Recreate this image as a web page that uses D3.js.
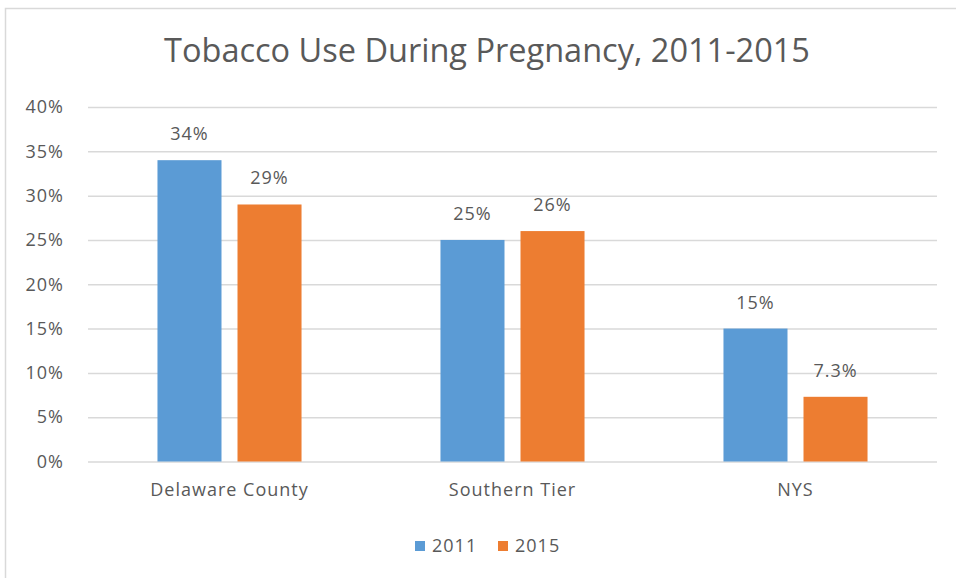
<!DOCTYPE html>
<html><head><meta charset="utf-8">
<script src="https://cdn.jsdelivr.net/npm/d3@7"></script>
<style>body{margin:0;background:#fff}svg{display:block}text{font-family:"Open Sans",Lato,sans-serif;fill:#595959}</style>
</head><body>
<script>
const categories = ["Delaware County","Southern Tier","NYS"];
const seriesNames = ["2011","2015"];
const values2011 = [34,25,15];
const values2015 = [29,26,7.3];
const labels2011 = ["34%","25%","15%"];
const labels2015 = ["29%","26%","7.3%"];
const yTicks = [0,5,10,15,20,25,30,35,40];
const colors = ["#5B9BD5","#ED7D31"];
const title = "Tobacco Use During Pregnancy, 2011-2015";

(function(){
const W=956,H=578;
const FS="18px", LS="1px";
const svg=d3.select("body").append("svg").attr("width",W).attr("height",H);
svg.append("rect").attr("x",5.5).attr("y",8.5).attr("width",W).attr("height",H).attr("fill","#fff").attr("stroke","#d9d9d9").attr("stroke-width",1.5);

const pLeft=88,pRight=937,pTop=107,pBottom=461.5;
const x0=d3.scaleBand().domain(categories).range([pLeft,pRight]).paddingInner(0.491).paddingOuter(0.2455);
const x1=d3.scaleBand().domain(seriesNames).range([0,x0.bandwidth()]).paddingInner(0.2);
const y=d3.scaleLinear().domain([0,40]).range([pBottom,pTop]);

svg.append("text").attr("x",487).attr("y",62).attr("text-anchor","middle").style("font-size","32.5px").text(title);

const yAxis=d3.axisLeft(y).tickValues(yTicks).tickFormat(d=>d+"%").tickSize(-(pRight-pLeft)).tickPadding(24);
const ga=svg.append("g").attr("transform",`translate(${pLeft},0)`).call(yAxis);
ga.select(".domain").remove();
ga.selectAll(".tick line").attr("stroke","#d9d9d9").attr("stroke-width",1.5);
ga.selectAll(".tick text").style("font-size",FS).style("letter-spacing",LS).style("font-family",null).attr("fill","#595959");

const data=categories.map((c,i)=>({c,vals:[{s:"2011",v:values2011[i],l:labels2011[i]},{s:"2015",v:values2015[i],l:labels2015[i]}]}));
const g=svg.append("g").selectAll("g").data(data).join("g").attr("transform",d=>`translate(${x0(d.c)},0)`);
g.selectAll("rect").data(d=>d.vals).join("rect")
 .attr("x",d=>x1(d.s)).attr("width",x1.bandwidth())
 .attr("y",d=>y(d.v)).attr("height",d=>y(0)-y(d.v))
 .attr("fill",(d,i)=>colors[i]);
g.selectAll("text").data(d=>d.vals).join("text")
 .attr("x",d=>x1(d.s)+x1.bandwidth()/2).attr("y",d=>y(d.v)-20)
 .attr("text-anchor","middle").style("font-size",FS).style("letter-spacing",LS).text(d=>d.l);

const xAxis=d3.axisBottom(x0).tickSize(0).tickPadding(22);
const gx=svg.append("g").attr("transform",`translate(0,${pBottom})`).call(xAxis);
gx.select(".domain").remove();
gx.selectAll("text").style("font-size",FS).style("letter-spacing",LS).style("font-family",null).attr("fill","#595959");

const legX=[415,498];
const lg=svg.append("g").selectAll("g").data(seriesNames).join("g").attr("transform",(d,i)=>`translate(${legX[i]},541)`);
lg.append("rect").attr("width",10).attr("height",10).attr("fill",(d,i)=>colors[i]);
lg.append("text").attr("x",17).attr("y",11).style("font-size",FS).style("letter-spacing",LS).text(d=>d);
})();
</script>
</body></html>
